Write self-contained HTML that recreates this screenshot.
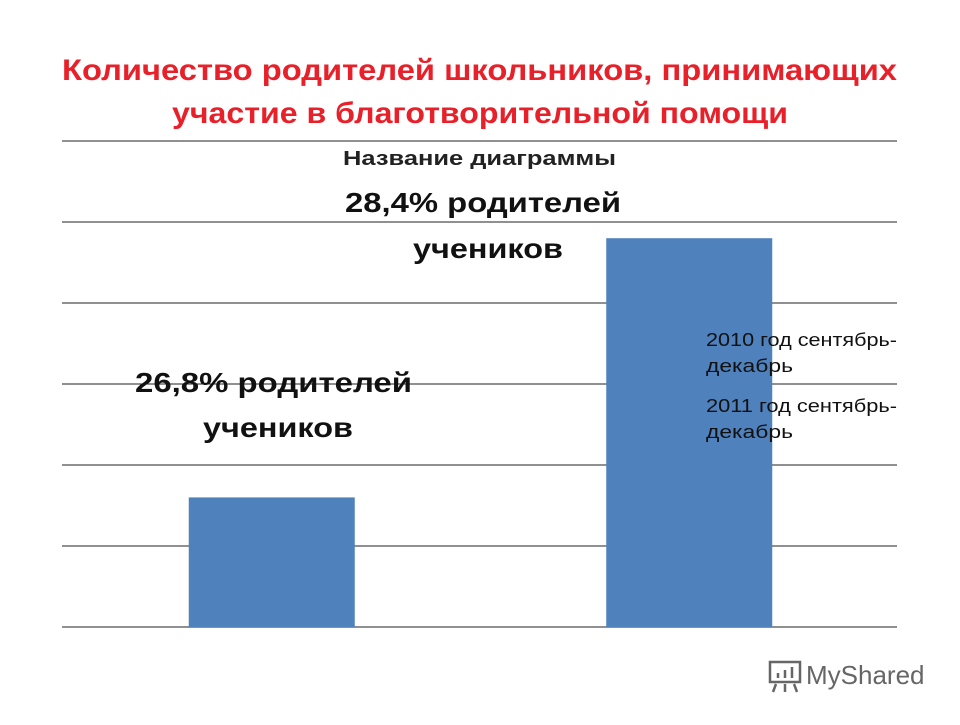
<!DOCTYPE html>
<html><head><meta charset="utf-8"><style>
body{margin:0;width:960px;height:720px;background:#fff;overflow:hidden;font-family:"Liberation Sans","DejaVu Sans",sans-serif}
</style></head><body>
<svg width="960" height="720" xmlns="http://www.w3.org/2000/svg">
<text x="62" y="80" textLength="835" lengthAdjust="spacingAndGlyphs" font-size="30" font-weight="bold" fill="#e8202a">Количество родителей школьников, принимающих</text>
<text x="172" y="123" textLength="616" lengthAdjust="spacingAndGlyphs" font-size="30" font-weight="bold" fill="#e8202a">участие в благотворительной помощи</text>
<text x="343" y="165" textLength="273" lengthAdjust="spacingAndGlyphs" font-size="20" font-weight="bold" fill="#222">Название диаграммы</text>
<g id="grid"></g>
<g id="bars"></g>
<text x="345" y="212" textLength="276" lengthAdjust="spacingAndGlyphs" font-size="28" font-weight="bold" fill="#111">28,4% родителей</text>
<text x="413" y="258" textLength="150" lengthAdjust="spacingAndGlyphs" font-size="28" font-weight="bold" fill="#111">учеников</text>
<text x="135" y="392" textLength="277" lengthAdjust="spacingAndGlyphs" font-size="28" font-weight="bold" fill="#111">26,8% родителей</text>
<text x="203" y="437" textLength="150" lengthAdjust="spacingAndGlyphs" font-size="28" font-weight="bold" fill="#111">учеников</text>
<g font-size="18" fill="#111">
<text x="706" y="346" textLength="191" lengthAdjust="spacingAndGlyphs">2010 год сентябрь-</text>
<text x="706" y="372" textLength="87" lengthAdjust="spacingAndGlyphs">декабрь</text>
<text x="706" y="412" textLength="191" lengthAdjust="spacingAndGlyphs">2011 год сентябрь-</text>
<text x="706" y="438" textLength="87" lengthAdjust="spacingAndGlyphs">декабрь</text>
</g>
<g>
<rect x="770" y="662" width="30" height="20" fill="none" stroke="#666" stroke-width="2.5"/>
<path d="M778 678v-5M785 678v-8M792 678v-11M776 684l-3 8M785 684v8M794 684l3 8" stroke="#666" stroke-width="2.5"/>
<text x="806" y="684" font-size="26" fill="#666">MyShared</text>
</g>
</svg>
<script>
const categories=["2010 год сентябрь-декабрь","2011 год сентябрь-декабрь"];
const values=[26.8,28.4];
const yTicks=[26,26.5,27,27.5,28,28.5,29];
const yMin=26,yMax=29,plotTop=141,plotBottom=627,plotLeft=62,plotRight=897;
const ns="http://www.w3.org/2000/svg";
function yScale(v){return plotBottom-(v-yMin)/(yMax-yMin)*(plotBottom-plotTop);}
function xCenter(i){return plotLeft+(i+0.5)*(plotRight-plotLeft)/categories.length;}
const g=document.getElementById('grid');
yTicks.forEach(t=>{const l=document.createElementNS(ns,'line');


l.setAttribute('x1',plotLeft);l.setAttribute('x2',plotRight);l.setAttribute('y1',yScale(t));l.setAttribute('y2',yScale(t));
l.setAttribute('stroke','#222');l.setAttribute('stroke-width','1');g.appendChild(l);});
const b=document.getElementById('bars');const bw=166;
values.forEach((v,i)=>{const r=document.createElementNS(ns,'rect');


r.setAttribute('x',xCenter(i)-bw/2+1);r.setAttribute('width',bw);r.setAttribute('y',yScale(v));r.setAttribute('height',plotBottom-yScale(v));
r.setAttribute('fill','#4f81bd');b.appendChild(r);});
</script>
</body></html>
